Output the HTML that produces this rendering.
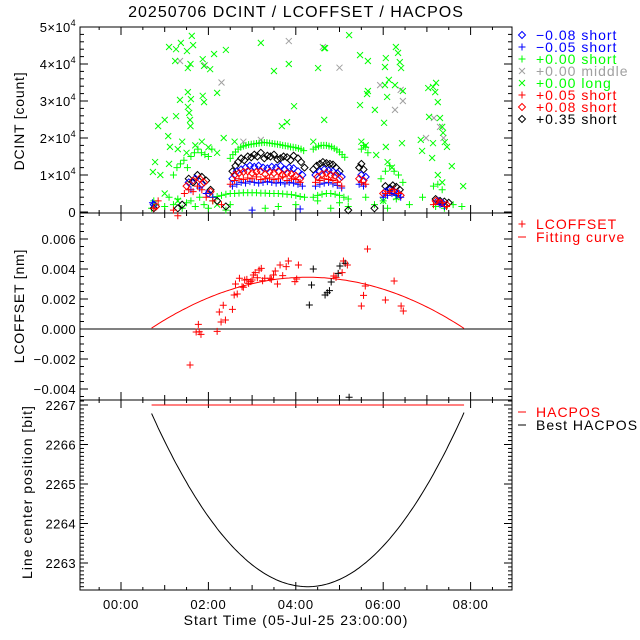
<!DOCTYPE html>
<html><head><meta charset="utf-8"><style>
html,body{margin:0;padding:0;background:#fff;}
svg{display:block;font-family:"Liberation Sans",sans-serif;}
</style></head><body>
<svg id="c" width="640" height="640" viewBox="0 0 640 640">
<text x="296" y="17" font-size="16" letter-spacing="1" text-anchor="middle">20250706 DCINT / LCOFFSET / HACPOS</text>
<g id="axes"></g><g id="marks"></g>
<text transform="translate(24,121) rotate(-90)" font-size="14" letter-spacing="0.8" text-anchor="middle">DCINT [count]</text>
<text transform="translate(24,306) rotate(-90)" font-size="14" letter-spacing="0.8" text-anchor="middle">LCOFFSET [nm]</text>
<text transform="translate(32,492) rotate(-90)" font-size="14" letter-spacing="1" text-anchor="middle">Line center position [bit]</text>
<text x="296" y="625" font-size="14" letter-spacing="1" text-anchor="middle">Start Time (05-Jul-25 23:00:00)</text>
<g id="legend" font-size="14" letter-spacing="1"></g>
</svg>
<script>
// ---- data ----
const xTickVals=[0,2,4,6,8];
const xTickLabels=["00:00","02:00","04:00","06:00","08:00"];
const y1TickVals=[0,1,2,3,4,5];
const y1TickLabels=["0","1","2","3","4","5"];
const y2TickVals=[-4,-2,0,2,4,6];
const y2TickLabels=["\u22120.004","\u22120.002","0.000","0.002","0.004","0.006"];
const y3TickVals=[2263,2264,2265,2266,2267];
const y3TickLabels=["2263","2264","2265","2266","2267"];

const gpT=[2.50,2.56,2.62,2.68,2.74,2.80,2.86,2.92,2.98,3.04,3.10,3.16,3.22,3.28,3.34,3.40,3.46,3.52,3.58,3.64,3.70,3.76,3.82,3.88,3.94,4.00,4.06,4.12,4.18,
4.40,4.46,4.52,4.58,4.64,4.70,4.76,4.82,4.88,4.94,5.00,5.06,5.12,
1.20,1.28,1.36,1.44,1.52,1.60,1.68,1.76,1.84,1.92,2.00,2.08,5.50,5.55,5.60,5.65,5.95,6.05,6.15,6.25,6.35,6.45,7.15,7.25,7.35,
2.1,2.2,2.3,2.4,2.5,2.6,2.7,2.8,2.9,3.0,3.1,3.2,3.3,3.4,3.5,3.6,3.7,3.8,3.9,4.0,4.1,4.2,4.4,4.5,4.6,4.7,4.8,4.9,5.0,5.1,5.2,
0.70,0.75,0.8,1.0,1.1,1.2,1.3,1.4,1.5,1.6,1.7,1.8,1.9,2.0,2.1,2.4,2.5,3.3,3.6,4.0,4.5,4.8,5.0,5.2,5.6,5.8,6.0,6.1,6.3,6.6,6.9,7.2,7.3,7.4,7.6,7.8];
const gpV=[1.45,1.55,1.62,1.70,1.75,1.78,1.80,1.82,1.83,1.84,1.85,1.86,1.87,1.88,1.87,1.86,1.85,1.84,1.83,1.82,1.80,1.79,1.78,1.76,1.75,1.74,1.72,1.70,1.66,
1.70,1.75,1.78,1.80,1.80,1.80,1.78,1.76,1.72,1.68,1.62,1.55,1.48,
1.0,1.2,1.3,1.4,1.2,1.5,1.6,1.7,1.6,1.55,1.5,1.7,1.7,1.8,1.75,1.6,0.9,1.1,1.25,1.1,1.0,0.8,0.7,0.75,0.6,
0.40,0.42,0.45,0.48,0.50,0.50,0.51,0.52,0.52,0.52,0.52,0.51,0.51,0.50,0.50,0.50,0.49,0.48,0.47,0.45,0.42,0.40,0.40,0.45,0.48,0.50,0.50,0.48,0.45,0.40,0.35,
0.1,0.3,0.2,0.15,0.4,0.2,0.35,0.1,0.25,0.3,0.15,0.4,0.2,0.1,0.3,0.05,0.2,0.1,0.15,0.2,0.3,0.1,0.25,0.15,0.4,0.2,0.3,0.1,0.35,0.2,0.4,0.15,0.3,0.1,0.2,0.15];

const bdT=[0.75,0.8,1.55,1.65,1.75,1.85,1.95,2.05,2.2,2.55,2.62,2.68,2.75,2.82,2.9,2.98,3.05,3.12,3.2,3.28,3.35,3.42,3.5,3.58,3.65,3.72,3.8,3.88,3.95,4.05,4.12,4.2,4.4,4.48,4.55,4.62,4.7,4.78,4.85,4.92,5.0,5.45,5.5,5.55,6.05,6.15,6.22,6.3,6.38,7.2,7.3,7.4,7.5,1.3,1.4,2.4,5.2,5.8];
const bdV=[0.1,0.15,0.9,0.8,1.0,0.95,0.85,0.6,0.3,1.1,1.25,1.35,1.45,1.4,1.5,1.48,1.55,1.5,1.6,1.45,1.52,1.5,1.55,1.42,1.45,1.5,1.48,1.4,1.52,1.45,1.35,1.2,1.15,1.25,1.3,1.35,1.32,1.3,1.28,1.2,1.1,1.2,1.3,1.15,0.7,0.65,0.72,0.68,0.6,0.35,0.3,0.28,0.25,0.1,0.2,0.15,0.05,0.1];

const bluDT=[0.75,1.55,1.7,1.85,2.0,2.55,2.65,2.75,2.85,2.95,3.05,3.15,3.25,3.35,3.45,3.55,3.65,3.75,3.85,3.95,4.05,4.15,4.45,4.55,4.65,4.75,4.85,4.95,5.05,5.5,5.6,6.05,6.15,6.25,6.35,7.25,7.35];
const bluDV=[0.2,0.8,0.9,0.75,0.5,0.9,1.1,1.15,1.2,1.25,1.22,1.25,1.2,1.18,1.22,1.2,1.25,1.15,1.2,1.18,1.1,1.0,1.0,1.1,1.15,1.12,1.1,1.05,0.95,1.0,0.95,0.55,0.6,0.55,0.5,0.3,0.25];

const bluPT=[0.72,1.6,1.8,1.95,2.1,2.55,2.65,2.75,2.85,2.95,3.05,3.15,3.25,3.35,3.45,3.55,3.65,3.75,3.85,3.95,4.05,4.15,4.45,4.55,4.65,4.75,4.85,4.95,5.05,5.45,5.55,6.0,6.1,6.2,6.3,6.4,7.3,7.4,3.0,4.1];
const bluPV=[0.25,0.6,0.65,0.5,0.4,0.7,0.75,0.8,0.78,0.82,0.8,0.78,0.8,0.82,0.8,0.78,0.8,0.76,0.8,0.78,0.75,0.7,0.7,0.75,0.78,0.8,0.76,0.72,0.65,0.75,0.7,0.4,0.45,0.5,0.45,0.4,0.2,0.15,0.05,0.08];

const rdT=[0.8,1.5,1.65,1.8,1.9,2.05,2.6,2.7,2.8,2.9,3.0,3.1,3.2,3.3,3.4,3.5,3.6,3.7,3.8,3.9,4.0,4.1,4.5,4.6,4.7,4.8,4.9,5.0,5.45,5.55,6.0,6.2,6.4,7.2,7.3,7.45];
const rdV=[0.15,0.7,0.85,0.9,0.8,0.55,1.0,1.05,1.08,1.1,1.05,1.08,1.1,1.02,1.08,1.05,1.1,1.0,1.05,1.02,0.98,0.9,0.95,1.02,1.05,1.0,0.98,0.9,0.9,0.85,0.5,0.55,0.45,0.3,0.25,0.2];

const rpT=[0.75,0.85,1.45,1.55,1.65,1.75,1.85,1.95,2.1,2.3,2.5,2.6,2.7,2.8,2.9,3.0,3.1,3.2,3.3,3.4,3.5,3.6,3.7,3.8,3.9,4.0,4.1,4.45,4.55,4.65,4.75,4.85,4.95,5.05,5.5,5.6,6.05,6.15,6.25,6.35,7.15,7.25,7.35,7.45,1.3,1.2];
const rpV=[0.1,0.3,0.5,0.6,0.55,0.7,0.6,0.4,0.3,0.2,0.75,0.85,0.9,0.88,0.92,0.9,0.95,0.88,0.9,0.92,0.88,0.9,0.95,0.85,0.9,0.88,0.8,0.8,0.85,0.9,0.88,0.85,0.8,0.7,0.8,0.75,0.5,0.55,0.6,0.5,0.2,0.3,0.25,0.15,-0.1,0.05];

const gmT=[1.35,1.92,2.3,3.84,4.62,5.0,5.93,6.27,6.4,6.45,6.98,7.16,7.3,7.38,3.2,2.8];
const gmV=[4.08,3.97,3.5,4.62,4.46,3.9,3.43,2.76,3.3,3.0,2.0,2.54,2.3,2.0,1.95,1.9];

const glT=[1.62,1.10,1.26,1.37,1.51,1.65,1.24,1.59,1.53,1.87,1.90,2.04,2.13,2.40,3.20,3.50,3.84,4.51,4.65,1.53,1.6,1.35,1.87,1.90,2.2,1.53,1.56,1.58,1.59,1.26,1.0,0.85,1.08,1.12,0.78,0.73,3.96,3.8,3.68,4.65,
5.22,4.67,5.47,5.65,6.29,6.34,6.38,6.41,6.06,6.04,6.13,6.04,6.27,6.45,6.09,5.65,5.63,5.47,5.81,6.02,6.43,6.06,5.84,6.86,6.89,7.12,7.57,7.83,
7.03,7.14,7.21,7.19,7.25,7.05,7.30,7.35,7.37,7.41,7.46,7.14,
1.3,1.4,1.5,1.7,1.85,2.0,2.2,2.35,1.1,0.9,2.6,4.4,5.5,5.6,6.2,6.1,7.25,7.35,1.0,1.3,2.2,6.0,6.3];
const glV=[4.76,4.46,4.4,4.57,4.35,4.51,4.08,4.0,3.89,4.13,3.95,3.86,4.27,4.38,4.57,3.81,4.0,3.89,4.43,3.24,3.05,3.03,3.14,2.97,3.22,2.84,2.68,2.49,2.32,2.59,2.49,2.32,2.05,1.76,1.35,1.08,2.86,2.43,2.32,2.49,
4.78,4.43,4.24,4.08,4.46,4.3,4.05,3.89,4.16,3.92,3.57,3.43,3.43,3.27,3.11,3.27,3.19,2.89,2.76,2.41,1.86,1.76,1.54,1.95,1.65,1.46,1.24,0.70,
3.35,3.38,3.49,3.24,2.97,2.57,2.54,2.30,2.14,1.89,1.76,1.86,
1.7,1.9,1.6,1.8,1.9,1.75,1.6,2.0,1.3,1.0,1.9,1.9,1.9,1.8,1.2,1.35,1.0,0.8,0.5,0.3,0.2,0.3,0.4];

const lcT=[1.58,1.72,1.77,1.79,1.83,2.20,2.25,2.29,2.34,2.39,2.55,2.59,2.62,2.66,2.71,2.77,2.80,2.83,2.88,2.92,2.97,3.00,3.03,3.07,3.12,3.16,3.21,3.24,3.29,3.41,3.44,3.49,3.53,3.58,3.64,3.70,3.78,3.83,3.98,4.02,4.06,4.31,4.36,4.40,4.67,4.72,4.77,4.81,4.87,4.92,4.97,5.01,5.06,5.09,5.13,5.18,5.22,5.50,5.55,5.59,5.64,6.05,6.25,6.41,6.46];
const lcV=[-2.40,-0.2,0.31,-0.18,-0.36,-0.16,1.13,0.47,1.58,0.6,1.31,2.27,3.0,2.33,3.38,2.82,2.78,3.27,3.31,3.04,3.16,3.27,3.6,3.76,3.42,3.93,4.04,3.22,3.38,3.38,3.31,3.6,3.87,3.0,4.27,3.56,4.16,4.53,3.16,3.33,4.27,1.6,2.93,4.0,2.27,2.42,2.56,3.13,3.53,3.44,3.71,4.2,3.76,4.53,4.38,4.27,-4.55,1.53,2.24,2.87,5.33,1.93,3.2,1.53,1.2];
const lcGroup=[0,0,0,0,0,0,0,0,0,0,0,0,0,0,0,0,0,0,0,0,0,0,0,0,0,0,0,0,0,0,0,0,0,0,0,0,0,0,0,0,0,1,1,1,1,1,1,1,0,0,1,1,0,0,1,0,1,0,0,0,0,0,0,0,0];

const fitRange=[0.7,7.85];
const fitCoef=[3.45,4.27,0.266];     // peak, center, curvature (1e-3 nm)
const hacposVal=[2267.0];
const bestCoef=[2262.4,4.27,0.344];  // min, center, curvature

// ---- scales ----
const L=80,R=512;
const xS=h=>121+h*43.7;
const y1=v=>212-v*37;
const y2=v=>329-v*15;
const y3=v=>405-(v-2267)*39.5;
const NS="http://www.w3.org/2000/svg";
const axes=document.getElementById('axes'),marks=document.getElementById('marks'),leg=document.getElementById('legend');
function mk(tag,attrs,parent){const e=document.createElementNS(NS,tag);for(const k in attrs)e.setAttribute(k,attrs[k]);parent.appendChild(e);return e;}

// frames
const panels=[[27,213],[213,400],[400,590]];
panels.forEach((p,i)=>{
  const r=mk('rect',{x:L,y:p[0],width:R-L,height:p[1]-p[0],fill:'none',stroke:'#000','stroke-width':1},axes);
  
  
  for(let h=-0.5;h<=8.9;h+=0.5){
    const x=xS(h);const maj=Math.abs(h/2-Math.round(h/2))<1e-6;const len=maj?8:(Number.isInteger(h)?5:3);
    const t1=mk('line',{x1:x,x2:x,y1:p[1],y2:p[1]-len,stroke:'#000'},axes);
    
    
    const t2=mk('line',{x1:x,x2:x,y1:p[0],y2:p[0]+len,stroke:'#000'},axes);
    
    
  }
});
xTickVals.forEach((v,i)=>{
  const t=mk('text',{x:xS(v),y:609,'font-size':13,'letter-spacing':0.7,'text-anchor':'middle'},axes);t.textContent=xTickLabels[i];
  
  
});
function yTicks(sc,lo,hi,minStep,majVals,labels,name,sup){
  for(let v=lo;v<=hi+1e-9;v+=minStep){const y=sc(v);const maj=majVals.some(m=>Math.abs(m-v)<1e-6);const len=maj?8:4;
    const a=mk('line',{x1:L,x2:L+len,y1:y,y2:y,stroke:'#000'},axes);
    
    
    const b=mk('line',{x1:R,x2:R-len,y1:y,y2:y,stroke:'#000'},axes);
    
    }
  majVals.forEach((v,i)=>{
    const t=mk('text',{x:76,y:sc(v)+5,'font-size':13,'letter-spacing':0.4,'text-anchor':'end'},axes);
    
    
    if(sup&&v!==0){t.textContent=labels[i]+'\u00d710';const s=mk('tspan',{dy:-6,'font-size':9},t);s.textContent='4';}
    else t.textContent=labels[i];
  });
}
yTicks(y1,-0.0,5.0,0.2,y1TickVals,y1TickLabels,'y1',true);
yTicks(y2,-4.5,7.5,0.5,y2TickVals,y2TickLabels,'y2',false);
yTicks(y3,2262.4,2267.1,0.1,y3TickVals,y3TickLabels,'y3',false);

// markers
function marker(type,x,y,col,name){
  let d;
  if(type==='plus')d=`M${x-3.5},${y}H${x+3.5}M${x},${y-3.5}V${y+3.5}`;
  else if(type==='x')d=`M${x-3},${y-3}L${x+3},${y+3}M${x-3},${y+3}L${x+3},${y-3}`;
  else d=`M${x},${y-3.5}L${x+3.5},${y}L${x},${y+3.5}L${x-3.5},${y}Z`;
  const e=mk('path',{d:d,stroke:col,fill:'none','stroke-width':1},marks);
  
  
}
function series(T,V,type,col,name,sc){T.forEach((t,i)=>marker(type,xS(t),sc(V[i]),col,name));}
const GRAY='#a0a0a0',GREEN='#00ff00',BLUE='#0000ff',RED='#ff0000';
series(gmT,gmV,'x',GRAY,'point-middle',y1);
series(glT,glV,'x',GREEN,'point-long',y1);
series(gpT,gpV,'plus',GREEN,'point-short-000',y1);
series(bdT,bdV,'diamond','#000','point-035',y1);
series(bluDT,bluDV,'diamond',BLUE,'point-m008',y1);
series(rdT,rdV,'diamond',RED,'point-p008',y1);
series(bluPT,bluPV,'plus',BLUE,'point-m005',y1);
series(rpT,rpV,'plus',RED,'point-p005',y1);

// panel 2
const zl=mk('line',{x1:L,x2:R,y1:y2(0),y2:y2(0),stroke:'#000'},marks);


let fd='';
for(let h=fitRange[0];h<=fitRange[1]+1e-9;h+=0.05){const v=fitCoef[0]-fitCoef[2]*(h-fitCoef[1])**2;fd+=(fd?'L':'M')+xS(h).toFixed(1)+','+y2(Math.max(v,0)).toFixed(1);}
const fc=mk('path',{d:fd,stroke:RED,fill:'none'},marks);


lcT.forEach((t,i)=>marker('plus',xS(t),y2(lcV[i]),lcGroup[i]?'#000':RED,'lcoffset-point'));

// panel 3
const hl=mk('line',{x1:xS(fitRange[0]),x2:xS(fitRange[1]),y1:y3(hacposVal[0]),y2:y3(hacposVal[0]),stroke:RED},marks);


let bd='';
for(let h=fitRange[0];h<=fitRange[1]+1e-9;h+=0.05){const v=bestCoef[0]+bestCoef[2]*(h-bestCoef[1])**2;bd+=(bd?'L':'M')+xS(h).toFixed(1)+','+y3(v).toFixed(1);}
const bc=mk('path',{d:bd,stroke:'#000',fill:'none'},marks);



// legends
const legItems=[['diamond',BLUE,'\u22120.08 short'],['plus',BLUE,'\u22120.05 short'],['plus',GREEN,'+0.00 short'],['x',GRAY,'+0.00 middle'],['x',GREEN,'+0.00 long'],['plus',RED,'+0.05 short'],['diamond',RED,'+0.08 short'],['diamond','#000','+0.35 short']];
legItems.forEach((it,i)=>{const y=35+i*12;marker(it[0],522,y,it[1],'legend-symbol');
  const t=mk('text',{x:536,y:y+5,fill:it[1]},leg);t.textContent=it[2];
  
  });
function legLine(y,col,txt,sym){
  if(sym)marker('plus',522,y,col,'legend-symbol');
  else{const l=mk('line',{x1:518,x2:526,y1:y,y2:y,stroke:col},leg);}
  const t=mk('text',{x:536,y:y+5,fill:col},leg);t.textContent=txt;
  
  
}
legLine(224,RED,'LCOFFSET',true);
legLine(237,RED,'Fitting curve',false);
legLine(412,RED,'HACPOS',false);
legLine(425,'#000','Best HACPOS',false);
</script>
</body></html>
